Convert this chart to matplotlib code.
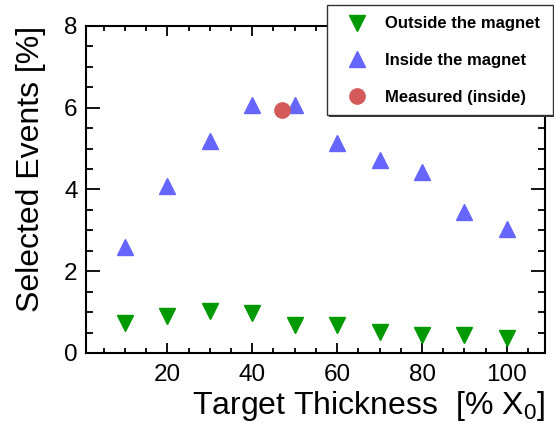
import matplotlib
matplotlib.use("Agg")
import matplotlib.pyplot as plt
from matplotlib.patches import Rectangle
from matplotlib.ticker import MultipleLocator

plt.rcParams['font.family'] = ['Liberation Sans', 'DejaVu Sans']
plt.rcParams['mathtext.fontset'] = 'custom'
plt.rcParams['mathtext.rm'] = 'Liberation Sans'
plt.rcParams['mathtext.default'] = 'regular'

# target thickness in % of radiation length
thickness = [10, 20, 30, 40, 50, 60, 70, 80, 90, 100]
outside_magnet = [0.74, 0.90, 1.03, 0.97, 0.68, 0.68, 0.52, 0.44, 0.44, 0.36]
inside_magnet = [2.60, 4.08, 5.18, 6.06, 6.07, 5.14, 4.72, 4.42, 3.44, 3.02]
measured_x = [47]
measured_y = [5.95]

GREEN = '#009900'
BLUE = '#6666ff'
RED = '#d45a5a'

fig = plt.figure(figsize=(5.54, 4.32), dpi=100)
ax = fig.add_axes([0.155, 0.183, 0.829, 0.757])

h_out, = ax.plot(thickness, outside_magnet, 'v', color=GREEN, markersize=11, linestyle='none')
h_in, = ax.plot(thickness, inside_magnet, '^', color=BLUE, markersize=11, linestyle='none')
h_meas, = ax.plot(measured_x, measured_y, 'o', color=RED, markersize=11, linestyle='none')

ax.set_xlim(0.8, 109)
ax.set_ylim(0, 8)
ax.xaxis.set_major_locator(MultipleLocator(20))
ax.xaxis.set_minor_locator(MultipleLocator(5))
ax.yaxis.set_major_locator(MultipleLocator(2))
ax.yaxis.set_minor_locator(MultipleLocator(0.5))

for side in ax.spines.values():
    side.set_linewidth(1.5)
ax.tick_params(which='both', direction='in', top=True, right=True, width=1.3, labelsize=17.5)
ax.tick_params(axis='x', which='major', length=7, pad=8)
ax.tick_params(axis='x', which='minor', length=3.5)
ax.tick_params(axis='y', which='major', length=10, pad=6)
ax.tick_params(axis='y', which='minor', length=5)

ax.set_xlabel('Target Thickness  [% X$_0$]', fontsize=23, loc='right', labelpad=2)
ax.set_ylabel('Selected Events [%]', fontsize=23, loc='top', labelpad=13)

# legend box with a small drop shadow, drawn in figure coordinates
x0, y0 = 327 / 554, 1 - 115 / 432
w, h = (553 - 327) / 554, 110 / 432
fig.patches.append(Rectangle((x0 + 2 / 554, y0 - 2 / 432), w, h, transform=fig.transFigure,
                             facecolor='#333333', edgecolor='none', zorder=5))
fig.patches.append(Rectangle((x0, y0), w, h, transform=fig.transFigure,
                             facecolor='white', edgecolor='#333333', linewidth=1.0, zorder=6))

leg = fig.legend([h_out, h_in, h_meas],
                 ['Outside the magnet', 'Inside the magnet', 'Measured (inside)'],
                 loc='center left', bbox_to_anchor=(348.7 / 554, 1 - 60.5 / 432),
                 frameon=False, prop={'weight': 'bold', 'size': 12},
                 handlelength=1.0, handletextpad=1.17, labelspacing=1.3,
                 borderpad=0, borderaxespad=0, numpoints=1)
leg.set_zorder(7)

fig.savefig('out.png', dpi=100)
